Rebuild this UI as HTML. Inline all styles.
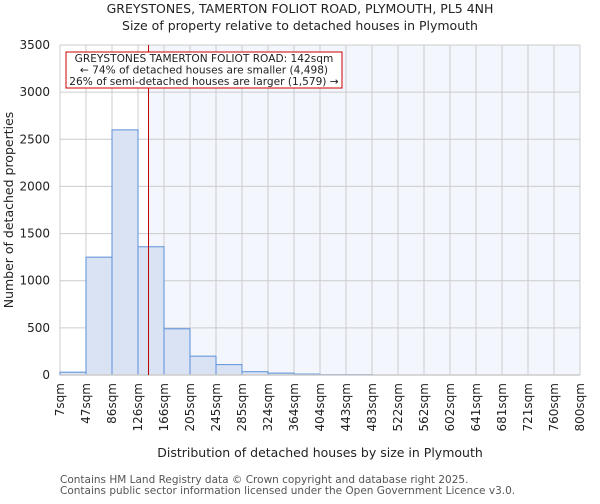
<!DOCTYPE html>
<html><head><meta charset="utf-8"><style>
body{margin:0;background:#fff;font-family:"DejaVu Sans","Liberation Sans",sans-serif;}
svg text{font-family:"DejaVu Sans","Liberation Sans",sans-serif;fill:#222;}
</style></head><body>
<svg id="chart" width="600" height="500" xmlns="http://www.w3.org/2000/svg">
<text x="300" y="13" font-size="12.5" text-anchor="middle">GREYSTONES, TAMERTON FOLIOT ROAD, PLYMOUTH, PL5 4NH</text>
<text x="300" y="30" font-size="12.5" text-anchor="middle">Size of property relative to detached houses in Plymouth</text>
<g id="plot"></g>
<text x="320" y="457" font-size="12.5" text-anchor="middle">Distribution of detached houses by size in Plymouth</text>
<text transform="translate(13,210) rotate(-90)" font-size="12.5" text-anchor="middle">Number of detached properties</text>
<text x="60" y="483" font-size="10.5" style="fill:#555">Contains HM Land Registry data © Crown copyright and database right 2025.</text>
<text x="60" y="494" font-size="10.5" style="fill:#555">Contains public sector information licensed under the Open Government Licence v3.0.</text>
</svg>
<script>
const tickLabels=["7sqm","47sqm","86sqm","126sqm","166sqm","205sqm","245sqm","285sqm","324sqm","364sqm","404sqm","443sqm","483sqm","522sqm","562sqm","602sqm","641sqm","681sqm","721sqm","760sqm","800sqm"];
const counts=[30,1250,2600,1360,490,200,110,35,20,10,5,5,0,0,0,0,0,0,0,0];
const yTicks=[0,500,1000,1500,2000,2500,3000,3500];
const propertySize=142;
const NS="http://www.w3.org/2000/svg";
const X0=60,X1=580,Y0=375,Y1=45,yMax=3500,sMin=7,sMax=800;
const xs=s=>X0+(s-sMin)/(sMax-sMin)*(X1-X0);
const xi=i=>X0+i*(X1-X0)/(tickLabels.length-1);
const ys=v=>Y0-v/yMax*(Y0-Y1);
const g=document.getElementById('plot');
function mk(t,a){const e=document.createElementNS(NS,t);for(const k in a)e.setAttribute(k,a[k]);g.appendChild(e);return e;}
const px=xs(propertySize);
let sh=mk('rect',{x:px,y:Y1,width:X1-px,height:Y0-Y1,fill:'#f3f6fd'});


yTicks.forEach(v=>{
 let l=mk('line',{x1:X0,x2:X1,y1:ys(v),y2:ys(v),stroke:'#ccc'});
 
 
 let t=mk('text',{x:X0-10,y:ys(v)+4,'font-size':'12','text-anchor':'end'});t.textContent=v;
 
 
});
tickLabels.forEach((lab,i)=>{
 let l=mk('line',{x1:xi(i),x2:xi(i),y1:Y1,y2:Y0,stroke:'#ccc'});
 
 
 let t=mk('text',{transform:`translate(${xi(i)+4},${Y0+8}) rotate(-90)`,'font-size':'12','text-anchor':'end'});t.textContent=lab;
 
 
});
counts.forEach((c,i)=>{
 if(c<=0)return;
 let r=mk('rect',{x:xi(i),y:ys(c),width:xi(i+1)-xi(i),height:Y0-ys(c),fill:'#dae3f4',stroke:'#5b8fd8','stroke-width':'1'});
 
 
});
let ax=mk('line',{x1:X0,x2:X1,y1:Y0,y2:Y0,stroke:'#ccc','stroke-width':'1.5'});


let pl=mk('line',{x1:px,x2:px,y1:Y1,y2:Y0,stroke:'#b00','stroke-width':'1'});


let box=mk('rect',{x:66,y:52,width:276,height:36,fill:'#fff',stroke:'#c00','stroke-width':'1'});


["GREYSTONES TAMERTON FOLIOT ROAD: 142sqm","← 74% of detached houses are smaller (4,498)","26% of semi-detached houses are larger (1,579) →"].forEach((s,i)=>{
 let t=mk('text',{x:204,y:62+i*11.5,'font-size':'10.6','text-anchor':'middle'});t.textContent=s;
 
 
});
</script>
</body></html>
